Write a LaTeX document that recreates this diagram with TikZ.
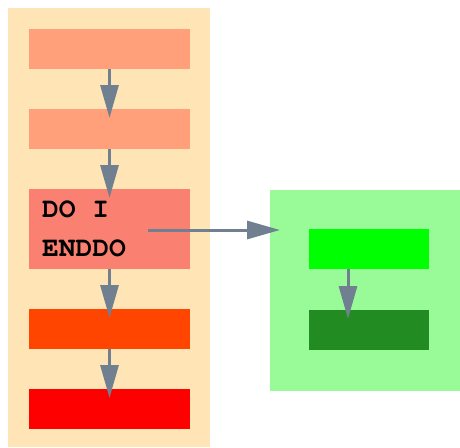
\documentclass[tikz,border=0pt]{standalone}
\usepackage[T1]{fontenc}
\usepackage{courier}
\usepackage{tikz}
\usetikzlibrary{arrows.meta}
\definecolor{moccasin}{HTML}{FFE4B5}
\definecolor{lightsalmon}{HTML}{FFA07A}
\definecolor{salmon}{HTML}{FA8072}
\definecolor{orangered}{HTML}{FF4500}
\definecolor{palegreen}{HTML}{98FB98}
\definecolor{lime}{HTML}{00FF00}
\definecolor{forestgreen}{HTML}{228B22}
\definecolor{slategray}{HTML}{708090}

\begin{document}
\begin{tikzpicture}[x=1pt,y=-1pt,
  every node/.style={inner sep=0pt, outer sep=0pt, draw=none},
  blk/.style={minimum width=161pt, minimum height=40pt},
  gblk/.style={minimum width=120pt, minimum height=40pt},
  code/.style={anchor=base west, font=\ttfamily\bfseries\fontsize{28}{39}\selectfont},
  flow/.style={draw=slategray, line width=3pt, -{Triangle[length=33pt,width=18pt]}, shorten >=-9pt}]
\useasboundingbox (0,0) rectangle (460,447);

% clusters
\node[fill=moccasin, minimum width=202pt, minimum height=439pt] (lpanel) at (109,227.5) {};
\node[fill=palegreen, minimum width=190pt, minimum height=201pt] (gpanel) at (365,290.5) {};

\node[blk, fill=lightsalmon] (b1) at (109.5,49) {};
\node[blk, fill=lightsalmon] (b2) at (109.5,129) {};
\node[blk, fill=salmon, minimum height=80pt] (b3) at (109.5,229) {};
\node[blk, fill=orangered] (b4) at (109.5,329) {};
\node[blk, fill=red] (b5) at (109.5,409) {};

\node[code] (t1) at (42,217) {DO I};
\node[code] (t2) at (42,256) {ENDDO};

\node[gblk, fill=lime] (g1) at (369,249) {};
\node[gblk, fill=forestgreen] (g2) at (369,330) {};

\coordinate (loopout) at (148,230);

\draw[flow] (b1.south) -- (b2.north);
\draw[flow] (b2.south) -- (b3.north);
\draw[flow] (b3.south) -- (b4.north);
\draw[flow] (b4.south) -- (b5.north);
\draw[flow] ([xshift=-21pt]g1.south) -- ([xshift=-21pt]g2.north);
\draw[flow, shorten >=-10pt] (loopout) -- (loopout -| gpanel.west);
\end{tikzpicture}
\end{document}
